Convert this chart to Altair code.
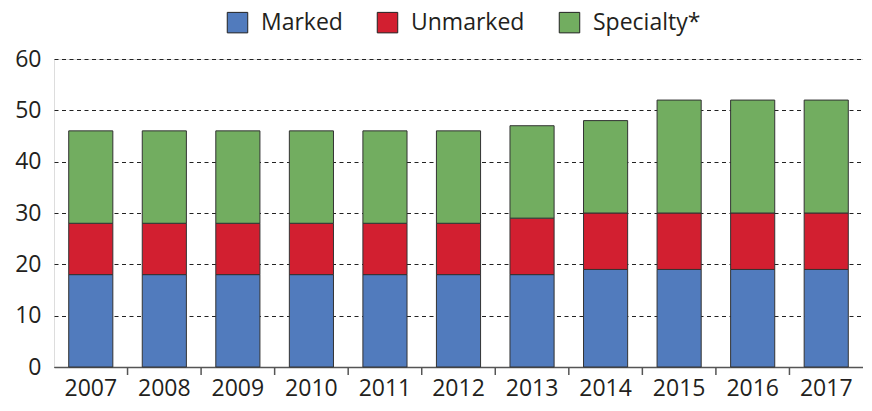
import altair as alt
import pandas as pd

years = ["2007", "2008", "2009", "2010", "2011", "2012", "2013", "2014", "2015", "2016", "2017"]
series = ["Marked", "Unmarked", "Specialty*"]
marked = [18, 18, 18, 18, 18, 18, 18, 19, 19, 19, 19]
unmarked = [10, 10, 10, 10, 10, 10, 11, 11, 11, 11, 11]
specialty = [18, 18, 18, 18, 18, 18, 18, 18, 22, 22, 22]
colors = ["#517bbd", "#d21f30", "#72ad60"]
y_ticks = [0, 10, 20, 30, 40, 50, 60]

rows = []
for i, y in enumerate(years):
    for k, (name, vals) in enumerate(zip(series, [marked, unmarked, specialty])):
        rows.append({"year": y, "series": name, "value": vals[i], "order": k})
df = pd.DataFrame(rows)
tick_df = pd.DataFrame({"year": years[1:]})

FONT = "Open Sans"
TXT = "#231f20"
W, H = 809, 308
FS = 23

xscale = alt.Scale(domain=years, paddingInner=0, paddingOuter=0)

bars = alt.Chart(df).mark_bar(
    width=alt.RelativeBandSize(0.6), stroke="#333333", strokeWidth=1
).encode(
    x=alt.X("year:O", scale=xscale, title=None,
            axis=alt.Axis(labelAngle=0, ticks=False, domain=True, domainColor="#555555",
                          domainWidth=1.5, labelFontSize=FS, labelFont=FONT,
                          labelColor=TXT, labelPadding=10, grid=False)),
    y=alt.Y("value:Q", stack="zero", title=None,
            scale=alt.Scale(domain=[0, 60], nice=False),
            axis=alt.Axis(values=y_ticks, domain=False, ticks=False, grid=True,
                          gridDash=[4, 3.5], gridColor="#222222", gridWidth=1,
                          labelFontSize=FS, labelFont=FONT, labelColor=TXT,
                          labelPadding=13)),
    color=alt.Color("series:N", scale=alt.Scale(domain=series, range=colors),
                    legend=alt.Legend(orient="none", legendX=172, legendY=-48,
                                      direction="horizontal", title=None,
                                      symbolType="square", symbolSize=420,
                                      symbolStrokeColor="#222222", symbolStrokeWidth=1,
                                      symbolOpacity=1,
                                      labelFontSize=FS, labelFont=FONT, labelColor=TXT,
                                      labelOffset=12, columnPadding=32, padding=0)),
    order=alt.Order("order:Q"),
)

ticks = alt.Chart(tick_df).mark_rule(color="#555555", strokeWidth=1.5).encode(
    x=alt.X("year:O", scale=xscale, bandPosition=0),
    y=alt.value(H),
    y2=alt.value(H + 8),
)

chart = alt.layer(bars, ticks).properties(
    width=W, height=H,
    autosize=alt.AutoSizeParams(type="none"),
    padding={"left": 46, "top": 51, "right": 0, "bottom": 44},
).configure_view(stroke=None).configure(font=FONT)

chart.save("out.html", embed_options={"renderer": "svg", "actions": False})
